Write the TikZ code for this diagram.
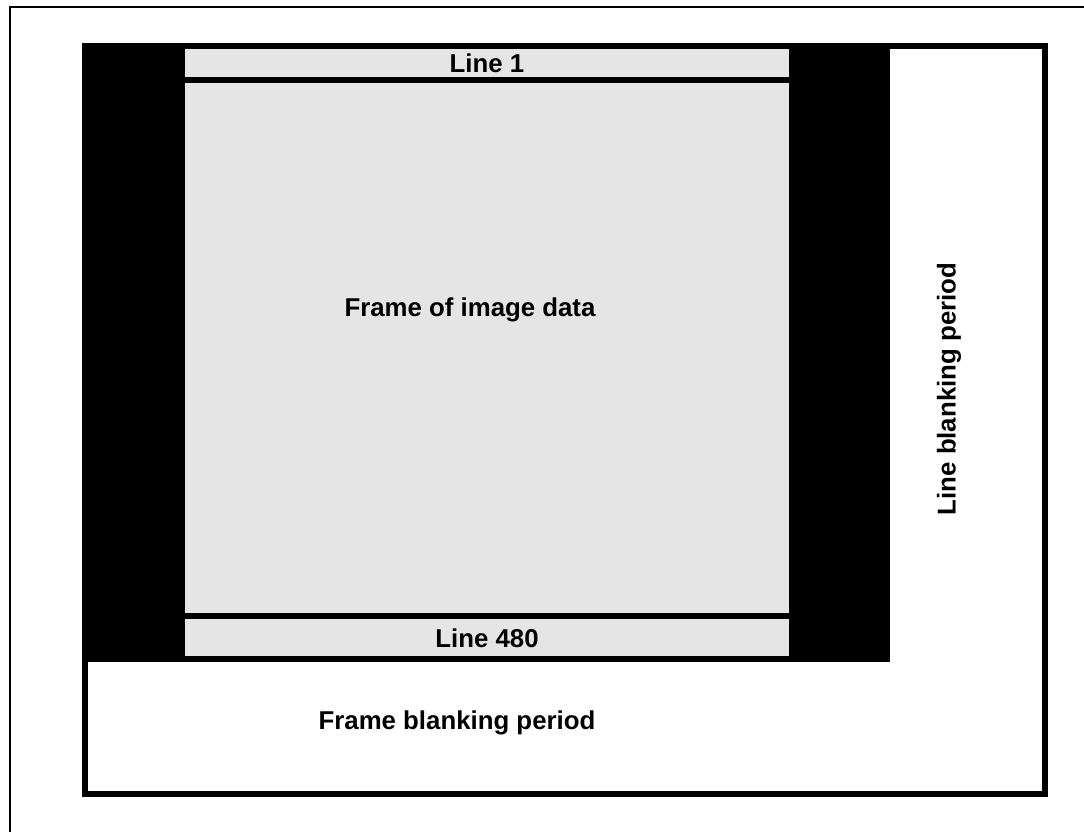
\documentclass[tikz,border=0pt]{standalone}
\usepackage{fontspec}
\setmainfont{Liberation Sans}
\begin{document}
\begin{tikzpicture}[x=1pt,y=-1pt,
  lbl/.style={font=\bfseries\fontsize{25.8}{30}\selectfont, inner sep=0pt},
  graybox/.style={fill=black!10, draw=none}]
\useasboundingbox (0,0) rectangle (1084,832);
% outer (open) figure frame
\draw[line width=2pt] (10,832) -- (10,7) -- (1084,7);
% frame blanking box
\draw[line width=6pt, fill=white] (85,46) rectangle (1045,794);
% black blanking region
\fill[black] (82,43) rectangle (890,662);
% gray data areas
\fill[graybox] (185,49) rectangle (789,77);
\fill[graybox] (185,83) rectangle (789,613);
\fill[graybox] (185,619) rectangle (789,656);
\node[lbl] (l1) at (487,63) {Line 1};
\node[lbl] (fd) at (470,310) {Frame of image data};
\node[lbl] (l480) at (487,638) {Line 480};
\node[lbl] (fb) at (457,723) {Frame blanking period};
\node[lbl, rotate=90] (lb) at (949,389) {Line blanking period};
\end{tikzpicture}
\end{document}
